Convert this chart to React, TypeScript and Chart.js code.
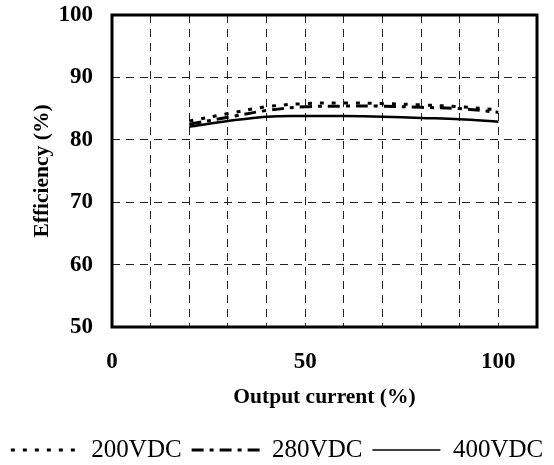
import React, { useEffect, useRef } from "react";
import { Chart, registerables } from "chart.js";

Chart.register(...registerables);

// ---- data ----
const loadPct = [20, 30, 40, 50, 60, 70, 80, 90, 100];
const eff200 = [83.0, 84.2, 85.3, 85.8, 85.9, 85.8, 85.6, 85.3, 84.8];
const eff280 = [82.5, 83.6, 84.7, 85.3, 85.4, 85.4, 85.2, 85.0, 84.4];
const eff400 = [82.1, 83.0, 83.7, 83.8, 83.8, 83.7, 83.5, 83.3, 82.9];
const seriesLabels = ["200VDC", "280VDC", "400VDC"];
const xLabelTicks = [0, 50, 100];
const xTitle = "Output current (%)";
const yTitle = "Efficiency (%)";

const FONT = "'Liberation Serif', 'Times New Roman', Times, serif";

const framePlugin = {
  id: "frame",
  beforeDatasetsDraw(chart: any) {
    const { ctx, chartArea: a } = chart;
    ctx.save();
    ctx.strokeStyle = "#000";
    ctx.lineWidth = 3;
    ctx.setLineDash([]);
    ctx.strokeRect(a.left, a.top, a.right - a.left, a.bottom - a.top);
    ctx.restore();
  },
};

const toPoints = (ys: number[]) => loadPct.map((x, i) => ({ x, y: ys[i] }));

export default function App() {
  const ref = useRef<HTMLCanvasElement | null>(null);

  useEffect(() => {
    document.body.style.margin = "0";
    const canvas = ref.current;
    if (!canvas) return;
    Chart.defaults.color = "#000";
    const defaultGen = (Chart.defaults as any).plugins.legend.labels.generateLabels;
    const legendWidths = [3, 3, 1.5];
    const chart = new Chart(canvas, {
      type: "line",
      data: {
        datasets: [
          {
            label: seriesLabels[0],
            data: toPoints(eff200),
            borderColor: "#000",
            backgroundColor: "#000",
            borderWidth: 3,
            borderDash: [4, 8],
            pointRadius: 0,
            tension: 0.35,
            xAxisID: "x",
            yAxisID: "y",
          },
          {
            label: seriesLabels[1],
            data: toPoints(eff280),
            borderColor: "#000",
            backgroundColor: "#000",
            borderWidth: 3,
            borderDash: [12, 6, 4, 6],
            pointRadius: 0,
            tension: 0.35,
            xAxisID: "x",
            yAxisID: "y",
          },
          {
            label: seriesLabels[2],
            data: toPoints(eff400),
            borderColor: "#000",
            backgroundColor: "#000",
            borderWidth: 2.5,
            pointRadius: 0,
            tension: 0.35,
            xAxisID: "x",
            yAxisID: "y",
          },
        ],
      },
      options: {
        responsive: false,
        animation: false,
        layout: { padding: { top: 15, right: 0, left: 0, bottom: -7.5 } },
        plugins: {
          tooltip: { enabled: false },
          legend: {
            display: true,
            position: "bottom",
            labels: {
              usePointStyle: true,
              pointStyle: "line",
              pointStyleWidth: 68,
              boxWidth: 68,
              padding: 10,
              color: "#000",
              font: { family: FONT, size: 25 },
              generateLabels: (ch: any) =>
                defaultGen(ch).map((l: any, i: number) => ({
                  ...l,
                  pointStyle: "line",
                  strokeStyle: "#000",
                  lineDash: ch.data.datasets[l.datasetIndex].borderDash || [],
                  lineWidth: legendWidths[i],
                })),
            },
          },
        },
        scales: {
          x: {
            type: "linear",
            position: "bottom",
            min: 0,
            max: 110,
            afterBuildTicks: (s: any) => {
              const t = [];
              for (let v = 0; v <= 110; v += 10) t.push({ value: v });
              s.ticks = t;
            },
            ticks: {
              autoSkip: false,
              maxRotation: 0,
              padding: 0,
              color: "#000",
              font: { family: FONT, size: 23, weight: "bold" },
              callback: (v: any) => (xLabelTicks.includes(Number(v)) ? String(v) : ""),
            },
            grid: {
              color: (c: any) =>
                c.tick && (c.tick.value === 0 || c.tick.value === 110) ? "rgba(0,0,0,0)" : "#222",
              lineWidth: 1,
              drawTicks: true,
              tickLength: 21,
              tickColor: "rgba(0,0,0,0)",
            },
            border: { display: false, dash: [8, 6] },
            title: {
              display: true,
              text: xTitle,
              color: "#000",
              font: { family: FONT, size: 21.5, weight: "bold" },
              padding: { top: 0, bottom: 17 },
            },
            afterFit: (s: any) => {
              s.height = 100.5;
            },
          },
          y: {
            type: "linear",
            position: "left",
            min: 50,
            max: 100,
            ticks: {
              stepSize: 10,
              padding: 0,
              color: "#000",
              font: { family: FONT, size: 23, weight: "bold" },
            },
            grid: {
              color: (c: any) =>
                c.tick && (c.tick.value === 50 || c.tick.value === 100) ? "rgba(0,0,0,0)" : "#222",
              lineWidth: 1,
              drawTicks: true,
              tickLength: 19,
              tickColor: "rgba(0,0,0,0)",
            },
            border: { display: false, dash: [8, 6] },
            title: {
              display: true,
              text: yTitle,
              color: "#000",
              font: { family: FONT, size: 21.5, weight: "bold" },
              padding: { top: 30, bottom: 0 },
            },
            afterFit: (s: any) => {
              s.width = 112;
            },
          },
          yr: {
            type: "linear",
            position: "right",
            min: 0,
            max: 1,
            ticks: { display: false },
            grid: { display: false, drawTicks: false },
            border: { display: false },
            afterFit: (s: any) => {
              s.width = 17;
            },
          },
        },
      },
      plugins: [framePlugin],
    } as any);
    return () => chart.destroy();
  }, []);

  return (
    <div style={{ width: 554, height: 465 }}>
      <canvas ref={ref} width={554} height={465} style={{ display: "block" }} />
    </div>
  );
}
